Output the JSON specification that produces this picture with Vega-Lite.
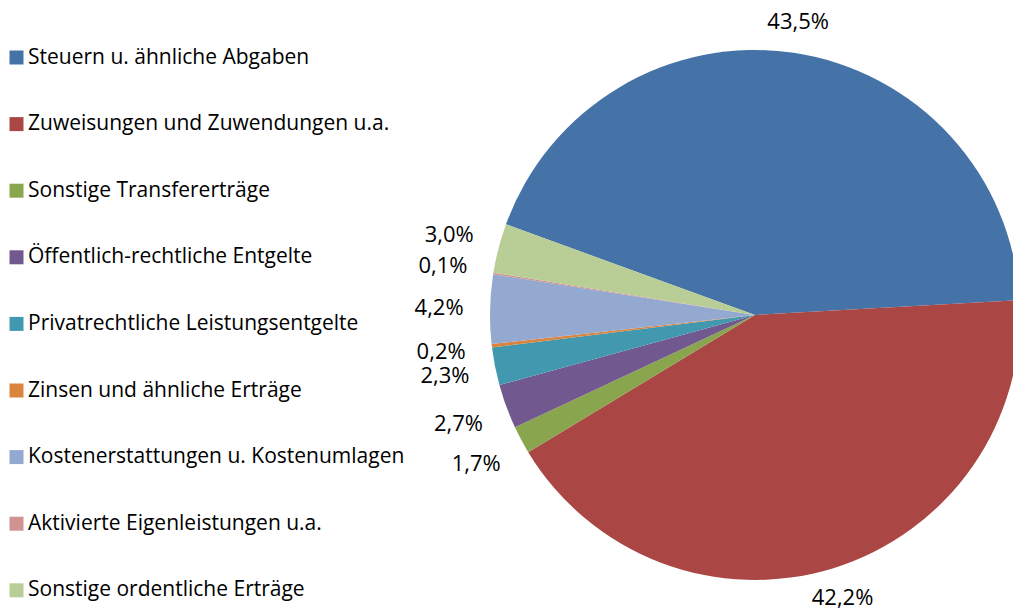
{
  "$schema": "https://vega.github.io/schema/vega-lite/v6.json",
  "width": 530,
  "height": 630,
  "autosize": {"type": "none"},
  "padding": {"left": 490, "top": 0, "right": 0, "bottom": 0},
  "background": "white",
  "config": {
    "view": {"stroke": null},
    "font": "Open Sans",
    "locale": {"number": {"decimal": ",", "thousands": ".", "grouping": [3], "currency": ["", " €"]}}
  },
  "data": {
    "values": [
      {"idx": 1, "kategorie": "Steuern u. ähnliche Abgaben", "anteil": 0.435},
      {"idx": 2, "kategorie": "Zuweisungen und Zuwendungen u.a.", "anteil": 0.422},
      {"idx": 3, "kategorie": "Sonstige Transfererträge", "anteil": 0.017},
      {"idx": 4, "kategorie": "Öffentlich-rechtliche Entgelte", "anteil": 0.027},
      {"idx": 5, "kategorie": "Privatrechtliche Leistungsentgelte", "anteil": 0.023},
      {"idx": 6, "kategorie": "Zinsen und ähnliche Erträge", "anteil": 0.002},
      {"idx": 7, "kategorie": "Kostenerstattungen u. Kostenumlagen", "anteil": 0.042},
      {"idx": 8, "kategorie": "Aktivierte Eigenleistungen u.a.", "anteil": 0.001},
      {"idx": 9, "kategorie": "Sonstige ordentliche Erträge", "anteil": 0.030}
    ]
  },
  "encoding": {
    "theta": {"field": "anteil", "type": "quantitative", "stack": true, "scale": {"range": [-1.2217, 5.0615]}},
    "order": {"field": "idx", "type": "quantitative"}
  },
  "layer": [
    {
      "mark": {"type": "arc", "outerRadius": 265},
      "encoding": {
        "color": {
          "field": "kategorie",
          "type": "nominal",
          "scale": {
            "domain": ["Steuern u. ähnliche Abgaben", "Zuweisungen und Zuwendungen u.a.", "Sonstige Transfererträge", "Öffentlich-rechtliche Entgelte", "Privatrechtliche Leistungsentgelte", "Zinsen und ähnliche Erträge", "Kostenerstattungen u. Kostenumlagen", "Aktivierte Eigenleistungen u.a.", "Sonstige ordentliche Erträge"],
            "range": ["#4572A7", "#AA4643", "#89A54E", "#71588F", "#4198AF", "#DB843D", "#93A9CF", "#D19392", "#B9CD96"]
          },
          "legend": {
            "title": null,
            "orient": "none",
            "legendX": -484,
            "legendY": 47,
            "padding": 0,
            "symbolType": "square",
            "symbolSize": 196,
            "symbolStrokeWidth": 0,
            "labelFontSize": 21,
            "labelFont": "Open Sans",
            "labelColor": "#000000",
            "labelLimit": 500,
            "labelOffset": 1,
            "rowPadding": 44.6
          }
        }
      }
    },
    {
      "mark": {"type": "text", "radius": 296, "fontSize": 22, "font": "Open Sans", "color": "#000000"},
      "encoding": {
        "text": {"condition": {"test": "datum.anteil > 0.1", "field": "anteil", "type": "quantitative", "format": ".1%"}, "value": ""}
      }
    },
    {
      "mark": {"type": "text", "radius": 316, "fontSize": 22, "font": "Open Sans", "color": "#000000"},
      "encoding": {
        "text": {"condition": {"test": "datum.anteil <= 0.1", "field": "anteil", "type": "quantitative", "format": ".1%"}, "value": ""}
      }
    }
  ]
}
